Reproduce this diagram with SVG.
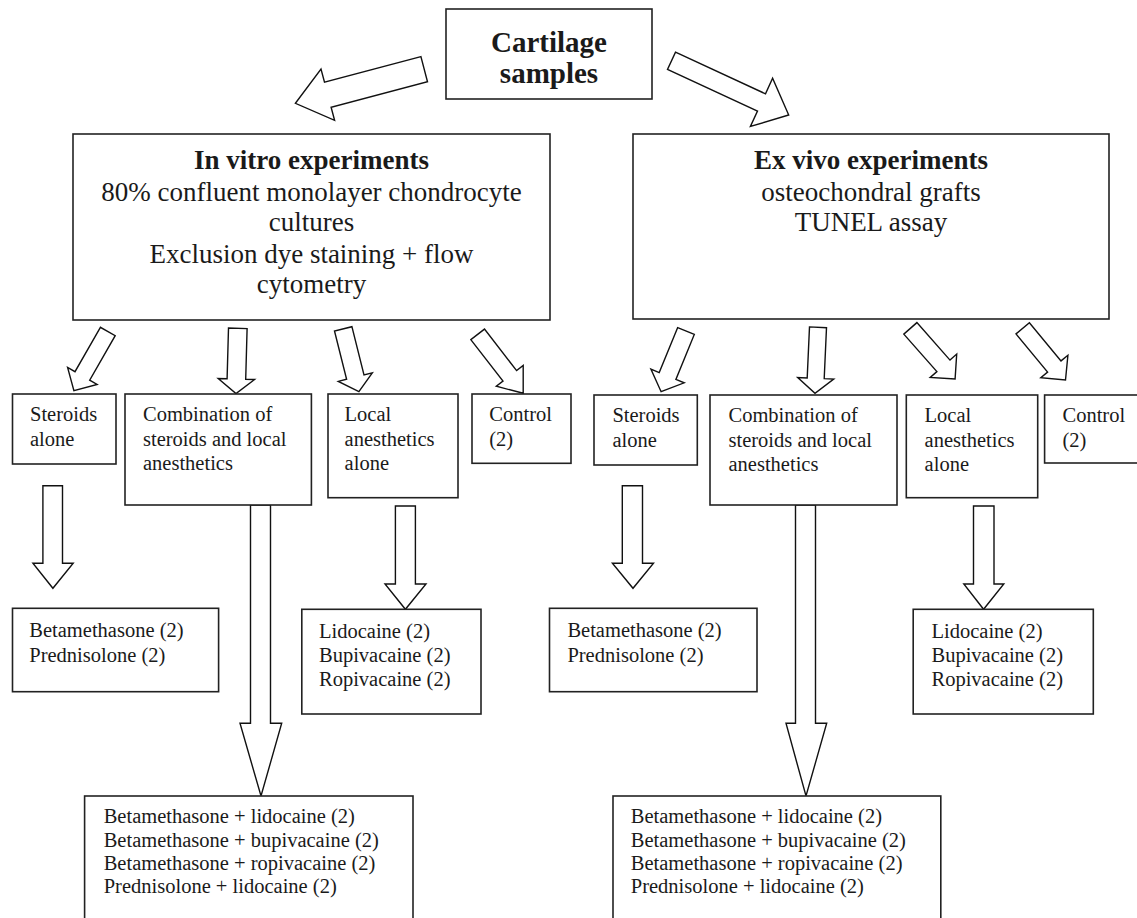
<svg xmlns="http://www.w3.org/2000/svg" width="1137" height="918" viewBox="0 0 1137 918">
<style>
.box{fill:#fff;stroke:#222;stroke-width:1.6}
.arr{fill:#fff;stroke:#111;stroke-width:1.4;stroke-linejoin:miter}
.t{font-family:"Liberation Serif","Times New Roman",serif;fill:#1a1a1a}
.big{font-size:27px}
.bold{font-weight:bold}
.sm{font-size:20.5px}
.mid{text-anchor:middle}
</style>
<rect width="1137" height="918" fill="#fff"/>
<g id="connectors">
<polygon class="arr" points="420.9,56.6 324.5,82.1 321.0,69.1 295.4,103.3 334.6,120.3 331.1,107.3 427.5,81.8"/>
<polygon class="arr" points="675.5,52.2 765.5,93.8 772.6,78.3 788.7,115 750.4,126.5 757.5,111.0 667.5,69.4"/>
<polygon class="arr" points="100.4,327.3 75.0,371.7 67.6,367.5 73.9,390.7 97.1,384.4 89.7,380.2 115.2,335.7"/>
<polygon class="arr" points="228.5,328.0 227.1,378.7 218.2,378.5 236,393.5 254.6,379.5 245.7,379.3 247.1,328.6"/>
<polygon class="arr" points="334.5,331.0 346.6,379.3 338.3,381.4 358.9,391.7 372.3,372.9 364.0,375.0 351.9,326.7"/>
<polygon class="arr" points="470.8,339.6 503.0,381.1 496.3,386.3 523.2,393.3 523.2,365.5 516.6,370.6 484.5,329.1"/>
<polygon class="arr" points="677.7,327.6 659.2,372.6 650.9,369.1 661.1,391.7 684.2,382.8 675.9,379.4 694.3,334.4"/>
<polygon class="arr" points="809.5,326.9 807.2,377.9 797.7,377.5 815,393.3 833.7,379.1 824.2,378.7 826.5,327.7"/>
<polygon class="arr" points="903.8,334.1 936.9,371.6 930.2,377.5 955.1,379 956.7,354.1 950.0,360.1 916.9,322.6"/>
<polygon class="arr" points="1016.0,333.9 1047.6,372.1 1040.8,377.7 1065.5,380 1067.9,355.3 1061.0,360.9 1029.4,322.8"/>
<polygon class="arr" points="42.9,485.7 62.5,485.7 62.5,563.3 73.2,563.3 52.9,588.3 32.9,563.3 42.9,563.3"/>
<polygon class="arr" points="395.4,506 415.4,506 415.4,584 426,584 405.4,609.3 385,584 395.4,584"/>
<polygon class="arr" points="622.3,485.7 642.5,485.7 642.5,563.3 653.5,563.3 633,588.3 612.4,563.3 622.3,563.3"/>
<polygon class="arr" points="973.5,506 994,506 994,584 1003.8,584 983.6,609.3 963.8,584 973.5,584"/>
<polygon class="arr" points="250.5,505 270.5,505 270.5,723.3 281.7,723.3 261,796 240,723.3 250.5,723.3"/>
<polygon class="arr" points="795.5,505 815.5,505 815.5,723.3 826.7,723.3 806,796 786,723.3 795.5,723.3"/>
</g>
<g id="cartilage">
<rect class="box" x="446" y="9" width="206" height="90"/>
<text class="t bold mid" font-size="29" x="549" y="52">Cartilage</text>
<text class="t bold mid" font-size="29" x="549" y="83">samples</text>
</g>
<g id="invitro">
<rect class="box" x="73" y="134" width="477" height="186"/>
<text class="t big bold mid" x="311.5" y="169">In vitro experiments</text>
<text class="t big mid" x="311.5" y="200.5">80% confluent monolayer chondrocyte</text>
<text class="t big mid" x="311.5" y="231">cultures</text>
<text class="t big mid" x="311.5" y="262.5">Exclusion dye staining + flow</text>
<text class="t big mid" x="311.5" y="292.5">cytometry</text>
</g>
<g id="exvivo">
<rect class="box" x="633" y="134" width="476" height="185"/>
<text class="t big bold mid" x="871" y="169">Ex vivo experiments</text>
<text class="t big mid" x="871" y="200.5">osteochondral grafts</text>
<text class="t big mid" x="871" y="231">TUNEL assay</text>
</g>
<g id="steroids-left">
<rect class="box" x="12.5" y="394" width="103.5" height="70"/>
<text class="t sm" x="30" y="421">Steroids</text>
<text class="t sm" x="30" y="445.5">alone</text>
</g>
<g id="combination-left">
<rect class="box" x="125" y="394" width="186.4" height="111"/>
<text class="t sm" x="143" y="421">Combination of</text>
<text class="t sm" x="143" y="445.5">steroids and local</text>
<text class="t sm" x="143" y="470">anesthetics</text>
</g>
<g id="local-left">
<rect class="box" x="328" y="394" width="130" height="103.7"/>
<text class="t sm" x="344.6" y="421">Local</text>
<text class="t sm" x="344.6" y="445.5">anesthetics</text>
<text class="t sm" x="344.6" y="470">alone</text>
</g>
<g id="control-left">
<rect class="box" x="472" y="394" width="99" height="69.3"/>
<text class="t sm" x="489.3" y="421">Control</text>
<text class="t sm" x="489.3" y="445.5">(2)</text>
</g>
<g id="steroids-right">
<rect class="box" x="594" y="395" width="103.3" height="70"/>
<text class="t sm" x="612.4" y="422">Steroids</text>
<text class="t sm" x="612.4" y="446.5">alone</text>
</g>
<g id="combination-right">
<rect class="box" x="710" y="395" width="187" height="110"/>
<text class="t sm" x="728.5" y="422">Combination of</text>
<text class="t sm" x="728.5" y="446.5">steroids and local</text>
<text class="t sm" x="728.5" y="471">anesthetics</text>
</g>
<g id="local-right">
<rect class="box" x="906.3" y="395" width="131.4" height="102.7"/>
<text class="t sm" x="924.6" y="422">Local</text>
<text class="t sm" x="924.6" y="446.5">anesthetics</text>
<text class="t sm" x="924.6" y="471">alone</text>
</g>
<g id="control-right">
<rect class="box" x="1044.6" y="395" width="110" height="68"/>
<text class="t sm" x="1062.5" y="422">Control</text>
<text class="t sm" x="1062.5" y="446.5">(2)</text>
</g>
<g id="steroid-drugs-left">
<rect class="box" x="12.5" y="608.3" width="206.1" height="83.4"/>
<text class="t sm" x="29.3" y="636.7">Betamethasone (2)</text>
<text class="t sm" x="29.3" y="661.5">Prednisolone (2)</text>
</g>
<g id="anesthetic-drugs-left">
<rect class="box" x="301.8" y="609.3" width="179.2" height="104.7"/>
<text class="t sm" x="319" y="637.7">Lidocaine (2)</text>
<text class="t sm" x="319" y="661.7">Bupivacaine (2)</text>
<text class="t sm" x="319" y="685.7">Ropivacaine (2)</text>
</g>
<g id="steroid-drugs-right">
<rect class="box" x="549.5" y="608.3" width="207.5" height="83.4"/>
<text class="t sm" x="567.4" y="636.7">Betamethasone (2)</text>
<text class="t sm" x="567.4" y="661.5">Prednisolone (2)</text>
</g>
<g id="anesthetic-drugs-right">
<rect class="box" x="913.2" y="609.3" width="180.1" height="104.7"/>
<text class="t sm" x="931.5" y="637.7">Lidocaine (2)</text>
<text class="t sm" x="931.5" y="661.7">Bupivacaine (2)</text>
<text class="t sm" x="931.5" y="685.7">Ropivacaine (2)</text>
</g>
<g id="combinations-left">
<rect class="box" x="84.6" y="796" width="328.4" height="140"/>
<text class="t sm" x="103.7" y="823.3">Betamethasone + lidocaine (2)</text>
<text class="t sm" x="103.7" y="846.7">Betamethasone + bupivacaine (2)</text>
<text class="t sm" x="103.7" y="870">Betamethasone + ropivacaine (2)</text>
<text class="t sm" x="103.7" y="893.3">Prednisolone + lidocaine (2)</text>
</g>
<g id="combinations-right">
<rect class="box" x="613" y="796" width="327.8" height="140"/>
<text class="t sm" x="630.8" y="823.3">Betamethasone + lidocaine (2)</text>
<text class="t sm" x="630.8" y="846.7">Betamethasone + bupivacaine (2)</text>
<text class="t sm" x="630.8" y="870">Betamethasone + ropivacaine (2)</text>
<text class="t sm" x="630.8" y="893.3">Prednisolone + lidocaine (2)</text>
</g>
</svg>
